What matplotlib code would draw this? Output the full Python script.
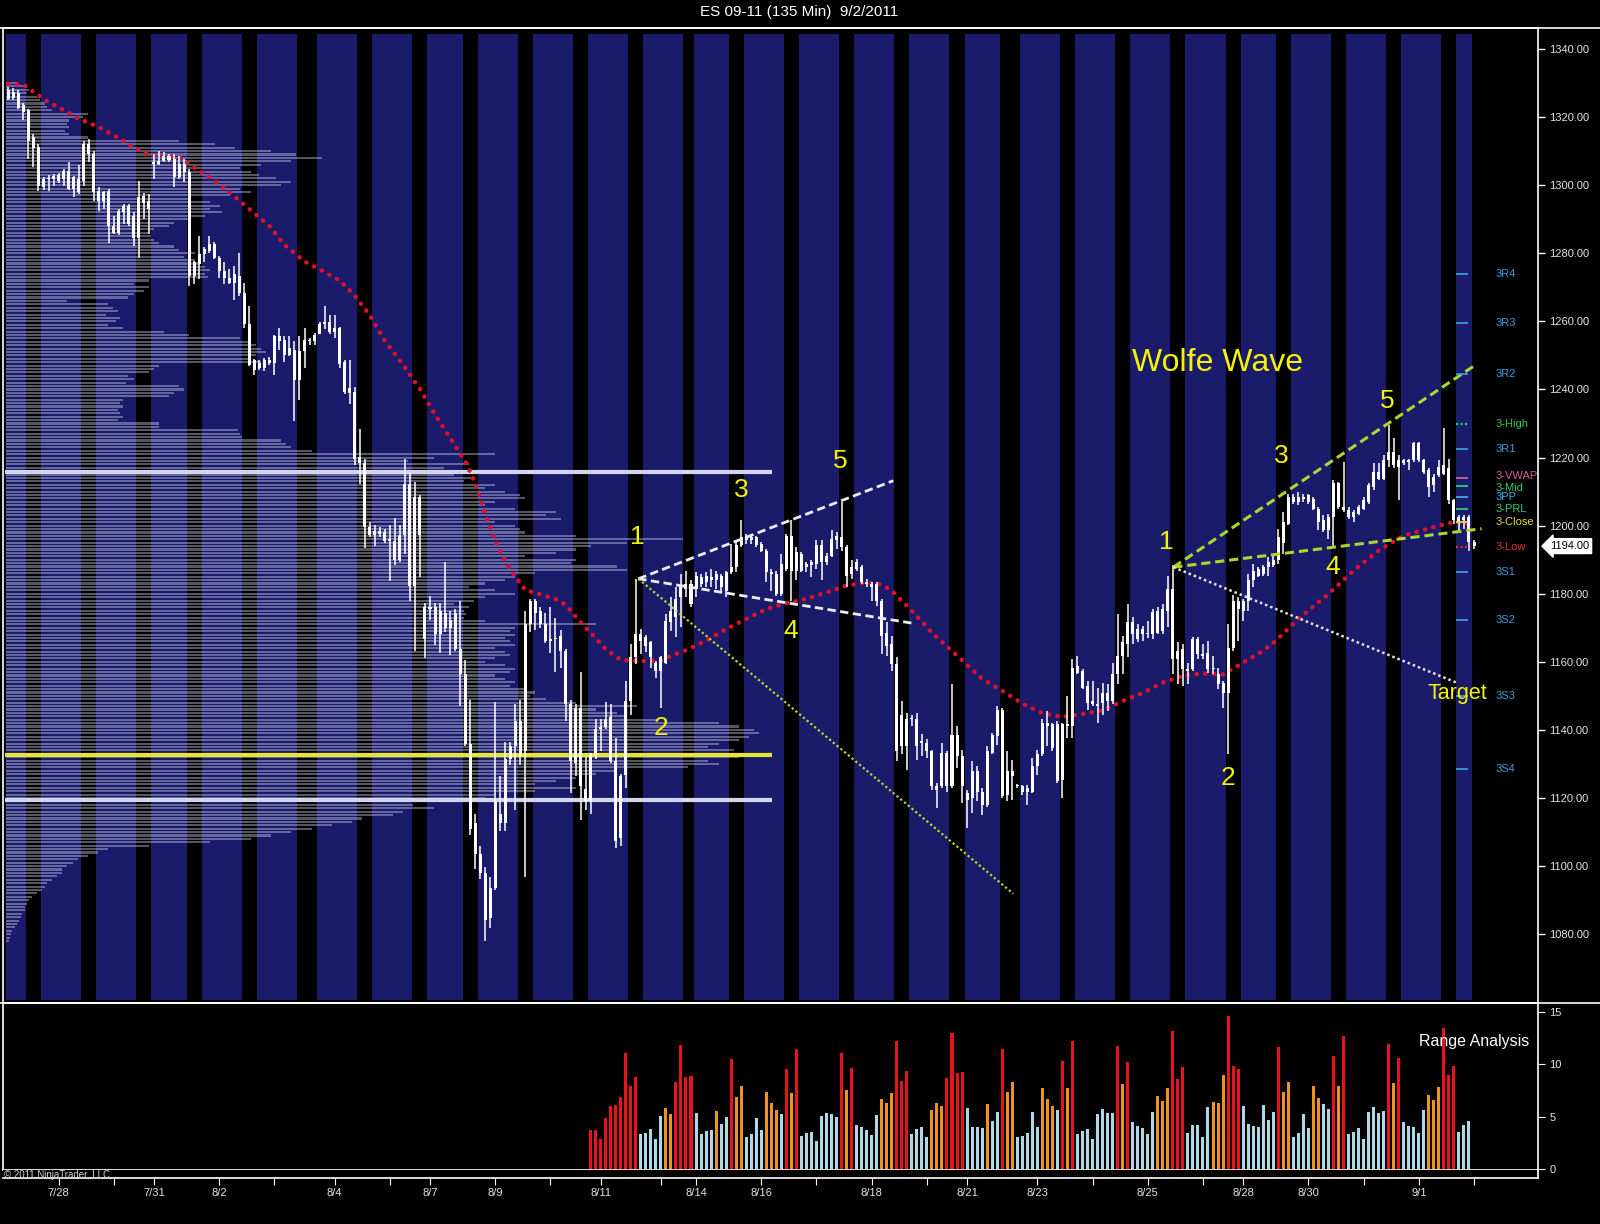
import numpy as np
import matplotlib.pyplot as plt
from matplotlib.lines import Line2D
from matplotlib.transforms import blended_transform_factory

plt.rcParams['font.family'] = ['Liberation Sans', 'DejaVu Sans']

# ES 09-11, 135 minute bars, 7/27 .. 9/2/2011 (bar index 0 = first bar)
opens = [
    1327.9, 1325.6, 1327.2, 1323.6, 1322.0, 1310.9, 1311.2, 1301.8, 1301.8, 1301.8,
    1303.0, 1301.8, 1304.3, 1298.9, 1301.8, 1301.3, 1312.1, 1309.2, 1298.4, 1295.4,
    1298.4, 1288.1, 1286.1, 1292.0, 1294.0, 1291.0, 1284.6, 1296.9, 1295.4, 1306.2,
    1306.2, 1307.2, 1308.5, 1307.7, 1302.3, 1306.2, 1303.8, 1273.3, 1276.8, 1279.7,
    1280.7, 1282.7, 1278.7, 1274.8, 1272.8, 1271.4, 1273.3, 1268.4, 1259.1, 1248.7,
    1246.3, 1246.3, 1248.7, 1247.8, 1255.6, 1254.6, 1250.2, 1251.7, 1242.8, 1251.2,
    1254.6, 1254.2, 1256.4, 1259.3, 1259.9, 1256.8, 1258.1, 1248.1, 1239.1, 1239.4,
    1218.3, 1218.3, 1199.7, 1197.2, 1198.5, 1198.1, 1195.4, 1195.4, 1189.8, 1197.2,
    1212.1, 1182.3, 1208.4, 1166.8, 1175.5, 1176.1, 1168.1, 1174.3, 1169.9, 1174.3,
    1163.7, 1156.3, 1135.8, 1112.8, 1103.5, 1098.0, 1084.9, 1093.6, 1115.3, 1112.8,
    1131.5, 1135.2, 1142.6, 1133.9, 1171.2, 1178.0, 1174.9, 1171.2, 1166.2, 1166.8,
    1167.5, 1163.1, 1147.6, 1130.2, 1146.4, 1122.8, 1119.0, 1132.7, 1140.2, 1140.8,
    1143.9, 1130.8, 1108.2, 1126.9, 1148.5, 1161.3, 1168.1, 1167.2, 1165.7, 1159.8,
    1157.3, 1159.8, 1171.6, 1173.1, 1179.0, 1182.9, 1182.9, 1181.4, 1184.9, 1183.4,
    1184.9, 1183.9, 1185.3, 1180.9, 1186.3, 1187.8, 1194.2, 1196.6, 1195.7, 1196.6,
    1194.7, 1192.7, 1186.3, 1185.8, 1179.9, 1187.3, 1197.1, 1186.8, 1191.7, 1187.8,
    1189.3, 1188.8, 1194.2, 1189.3, 1191.2, 1195.7, 1196.6, 1193.7, 1185.8, 1187.3,
    1187.8, 1183.4, 1182.9, 1182.9, 1178.0, 1168.6, 1165.2, 1159.3, 1135.2, 1143.1,
    1143.1, 1143.1, 1136.2, 1136.2, 1133.7, 1123.4, 1123.4, 1133.2, 1123.4, 1138.6,
    1132.3, 1121.4, 1119.9, 1127.8, 1121.9, 1118.0, 1133.2, 1138.2, 1146.0, 1121.0,
    1127.8, 1123.6, 1123.4, 1121.9, 1121.9, 1129.3, 1132.8, 1142.1, 1141.6, 1141.6,
    1125.4, 1141.6, 1141.1, 1158.8, 1157.3, 1152.9, 1147.5, 1147.5, 1148.0, 1150.9,
    1148.5, 1156.3, 1161.7, 1165.2, 1171.6, 1166.7, 1169.6, 1168.1, 1168.1, 1168.6,
    1169.1, 1175.0, 1181.4, 1160.8, 1163.7, 1157.8, 1157.8, 1166.7, 1162.2, 1162.7,
    1157.8, 1156.3, 1153.9, 1150.9, 1164.2, 1178.0, 1175.0, 1178.0, 1183.9, 1185.3,
    1185.8, 1187.8, 1188.3, 1189.8, 1195.0, 1200.6, 1208.4, 1207.0, 1208.4, 1207.0,
    1207.9, 1205.0, 1201.6, 1198.6, 1202.5, 1212.4, 1205.5, 1204.5, 1202.5, 1203.5,
    1205.0, 1207.0, 1211.4, 1215.8, 1213.8, 1219.3, 1221.7, 1217.3, 1219.3, 1218.8,
    1219.3, 1224.2, 1219.3, 1216.3, 1211.9, 1214.8, 1215.3, 1216.8, 1207.5, 1201.1,
    1202.5, 1202.5, 1195.2]
highs = [
    1328.9, 1328.4, 1328.0, 1324.0, 1322.5, 1315.0, 1312.0, 1302.5, 1303.0, 1303.3,
    1303.5, 1304.8, 1306.7, 1302.8, 1305.8, 1313.1, 1313.6, 1310.0, 1299.4, 1298.4,
    1299.0, 1291.0, 1293.0, 1294.5, 1294.5, 1292.0, 1301.3, 1297.7, 1297.4, 1309.2,
    1309.9, 1309.7, 1309.2, 1309.2, 1308.7, 1307.7, 1304.8, 1277.8, 1285.1, 1281.7,
    1285.1, 1283.2, 1279.2, 1277.3, 1275.3, 1276.3, 1280.2, 1271.4, 1264.5, 1249.0,
    1248.7, 1249.2, 1249.5, 1256.1, 1258.1, 1255.6, 1255.6, 1254.2, 1255.6, 1258.1,
    1255.2, 1256.6, 1259.9, 1264.6, 1261.8, 1261.8, 1258.4, 1248.8, 1248.8, 1240.7,
    1228.3, 1219.6, 1201.0, 1200.3, 1199.7, 1199.0, 1200.3, 1202.2, 1200.3, 1219.6,
    1215.9, 1212.7, 1209.0, 1177.4, 1179.2, 1177.4, 1177.4, 1189.2, 1174.9, 1175.5,
    1178.0, 1160.6, 1148.8, 1115.3, 1106.0, 1099.8, 1096.7, 1148.2, 1126.5, 1136.4,
    1136.4, 1147.6, 1148.8, 1174.9, 1178.6, 1178.6, 1176.0, 1174.3, 1176.1, 1173.0,
    1169.3, 1163.7, 1148.8, 1147.6, 1157.0, 1132.1, 1133.3, 1143.3, 1143.3, 1148.2,
    1147.6, 1137.7, 1127.0, 1154.4, 1165.2, 1184.4, 1169.6, 1168.0, 1166.2, 1160.3,
    1161.8, 1174.0, 1179.0, 1181.9, 1185.8, 1186.8, 1183.9, 1186.3, 1185.8, 1186.3,
    1187.3, 1186.8, 1185.8, 1186.8, 1194.7, 1195.7, 1201.6, 1197.6, 1197.1, 1197.1,
    1195.2, 1193.2, 1187.3, 1186.8, 1191.7, 1197.6, 1201.6, 1193.7, 1192.2, 1189.3,
    1189.8, 1195.7, 1195.7, 1192.0, 1198.8, 1198.1, 1207.0, 1194.2, 1189.8, 1190.3,
    1188.3, 1184.4, 1183.4, 1183.4, 1178.5, 1171.6, 1167.6, 1161.3, 1148.5, 1145.0,
    1144.5, 1145.0, 1138.7, 1137.2, 1134.2, 1124.4, 1136.2, 1133.7, 1153.4, 1141.1,
    1134.2, 1122.4, 1130.8, 1129.3, 1122.9, 1135.2, 1139.1, 1147.0, 1146.5, 1133.7,
    1131.3, 1124.2, 1123.9, 1123.9, 1131.8, 1134.2, 1143.1, 1145.5, 1142.1, 1142.6,
    1142.1, 1150.0, 1160.8, 1161.7, 1157.8, 1154.4, 1154.4, 1152.4, 1153.9, 1153.4,
    1159.8, 1174.0, 1167.6, 1177.0, 1173.1, 1171.1, 1170.6, 1172.1, 1175.5, 1176.0,
    1177.0, 1185.3, 1188.3, 1165.7, 1165.2, 1159.8, 1167.2, 1167.2, 1165.2, 1166.2,
    1161.7, 1158.3, 1154.4, 1171.1, 1179.5, 1179.0, 1178.5, 1185.8, 1188.8, 1187.8,
    1188.3, 1190.8, 1191.7, 1199.1, 1204.0, 1209.4, 1209.4, 1209.9, 1209.4, 1209.4,
    1208.4, 1205.5, 1203.0, 1203.5, 1213.4, 1212.9, 1218.8, 1205.5, 1204.5, 1206.0,
    1208.4, 1212.4, 1218.3, 1218.3, 1220.7, 1229.6, 1225.6, 1220.7, 1219.7, 1219.7,
    1224.7, 1224.7, 1219.7, 1216.8, 1215.3, 1219.3, 1228.6, 1219.7, 1207.9, 1203.0,
    1203.0, 1203.0, 1195.7]
lows = [
    1324.9, 1324.9, 1322.5, 1319.0, 1307.7, 1305.3, 1298.4, 1298.5, 1298.4, 1299.9,
    1300.5, 1299.9, 1298.7, 1296.4, 1297.4, 1299.9, 1306.7, 1295.4, 1292.5, 1293.0,
    1283.1, 1285.6, 1285.5, 1288.5, 1288.0, 1282.2, 1278.7, 1290.0, 1285.6, 1301.8,
    1305.8, 1306.9, 1306.7, 1299.4, 1301.8, 1300.8, 1270.4, 1270.9, 1272.3, 1277.3,
    1280.2, 1278.2, 1272.8, 1270.9, 1270.9, 1266.4, 1267.4, 1258.1, 1246.8, 1244.3,
    1245.8, 1245.5, 1247.3, 1244.3, 1251.7, 1248.2, 1249.7, 1230.6, 1237.0, 1246.3,
    1253.2, 1253.2, 1256.2, 1257.7, 1256.2, 1255.0, 1246.3, 1238.8, 1235.7, 1217.7,
    1212.1, 1193.5, 1196.6, 1194.1, 1196.6, 1195.0, 1183.6, 1188.5, 1189.2, 1191.7,
    1178.0, 1163.1, 1184.8, 1161.2, 1172.4, 1165.0, 1162.5, 1168.7, 1162.0, 1163.1,
    1147.0, 1135.2, 1109.1, 1099.2, 1096.1, 1078.1, 1081.8, 1093.0, 1110.4, 1110.4,
    1129.6, 1116.6, 1129.6, 1096.7, 1168.7, 1169.3, 1170.0, 1165.6, 1162.5, 1156.9,
    1158.2, 1142.6, 1121.5, 1126.5, 1113.5, 1116.6, 1115.3, 1131.5, 1133.9, 1140.2,
    1130.2, 1105.4, 1106.0, 1122.9, 1144.5, 1159.3, 1162.2, 1163.0, 1158.3, 1155.4,
    1146.5, 1159.3, 1169.1, 1167.2, 1170.1, 1179.0, 1176.0, 1179.0, 1181.9, 1181.9,
    1181.9, 1181.4, 1180.4, 1179.0, 1185.8, 1186.3, 1193.7, 1194.7, 1194.7, 1193.7,
    1192.2, 1183.4, 1180.9, 1179.4, 1179.4, 1186.8, 1178.0, 1183.9, 1186.3, 1186.3,
    1184.9, 1187.3, 1183.9, 1188.5, 1190.7, 1193.2, 1192.7, 1181.9, 1184.4, 1186.8,
    1182.9, 1182.0, 1178.0, 1176.5, 1162.2, 1161.8, 1157.3, 1130.8, 1132.8, 1128.3,
    1141.1, 1131.3, 1132.3, 1131.8, 1122.4, 1117.0, 1122.9, 1121.9, 1122.9, 1128.8,
    1118.5, 1111.1, 1115.5, 1119.0, 1115.1, 1117.5, 1132.8, 1135.7, 1120.0, 1119.0,
    1119.5, 1122.9, 1120.9, 1118.0, 1121.4, 1126.9, 1132.3, 1135.2, 1133.7, 1124.4,
    1119.9, 1137.7, 1137.7, 1156.3, 1151.9, 1146.0, 1147.0, 1142.1, 1144.5, 1145.5,
    1147.5, 1153.4, 1156.3, 1161.3, 1165.2, 1165.7, 1166.2, 1167.1, 1166.7, 1168.1,
    1168.1, 1170.1, 1156.3, 1153.4, 1152.9, 1153.4, 1157.3, 1160.8, 1160.8, 1156.8,
    1156.3, 1151.9, 1146.5, 1132.8, 1163.2, 1166.2, 1172.1, 1175.0, 1181.9, 1184.9,
    1185.3, 1185.3, 1187.8, 1188.8, 1191.7, 1200.1, 1206.5, 1206.0, 1207.0, 1206.5,
    1204.5, 1198.6, 1198.1, 1196.2, 1193.7, 1205.0, 1204.0, 1202.0, 1201.1, 1203.0,
    1204.5, 1206.5, 1210.4, 1213.4, 1213.4, 1217.3, 1216.8, 1207.5, 1217.8, 1216.3,
    1218.8, 1218.8, 1215.3, 1208.4, 1209.9, 1214.3, 1214.8, 1206.5, 1200.6, 1198.6,
    1199.1, 1192.7, 1193.2]
closes = [
    1325.4, 1327.4, 1322.7, 1321.5, 1313.1, 1314.1, 1299.9, 1299.4, 1302.2, 1302.8,
    1301.3, 1304.3, 1298.9, 1302.3, 1297.9, 1312.1, 1309.2, 1297.9, 1295.4, 1297.9,
    1288.1, 1286.1, 1292.5, 1294.0, 1288.5, 1284.6, 1296.4, 1294.9, 1293.0, 1306.7,
    1307.2, 1308.5, 1307.5, 1302.3, 1306.2, 1303.8, 1273.3, 1277.3, 1279.7, 1281.2,
    1282.7, 1278.7, 1274.8, 1272.8, 1271.4, 1273.8, 1268.4, 1259.1, 1247.3, 1245.8,
    1247.8, 1248.7, 1247.8, 1255.6, 1254.2, 1250.2, 1252.2, 1242.8, 1251.2, 1254.6,
    1254.2, 1256.1, 1259.3, 1259.9, 1256.8, 1258.1, 1247.5, 1239.4, 1240.3, 1219.6,
    1220.2, 1199.7, 1197.2, 1198.5, 1197.5, 1195.4, 1196.0, 1189.8, 1197.2, 1212.1,
    1182.3, 1208.4, 1197.2, 1176.1, 1176.1, 1168.1, 1174.9, 1169.9, 1172.4, 1163.7,
    1156.3, 1135.8, 1111.0, 1103.5, 1098.0, 1084.3, 1093.6, 1119.0, 1112.8, 1131.5,
    1135.2, 1142.6, 1132.7, 1171.2, 1178.0, 1174.3, 1171.2, 1166.2, 1166.8, 1167.1,
    1163.1, 1147.6, 1130.8, 1146.4, 1123.4, 1119.0, 1132.7, 1140.2, 1140.8, 1143.3,
    1130.8, 1107.3, 1126.4, 1148.5, 1161.3, 1168.1, 1166.2, 1164.7, 1161.3, 1157.3,
    1161.3, 1172.1, 1175.0, 1178.5, 1182.9, 1181.4, 1177.0, 1185.3, 1182.9, 1185.3,
    1183.9, 1185.8, 1181.9, 1186.3, 1187.8, 1194.2, 1196.6, 1195.7, 1196.6, 1194.2,
    1192.7, 1186.3, 1185.8, 1179.9, 1188.8, 1197.1, 1186.8, 1192.2, 1186.8, 1188.8,
    1188.3, 1194.2, 1189.3, 1191.2, 1196.2, 1197.1, 1193.7, 1185.3, 1187.8, 1189.3,
    1183.4, 1182.9, 1181.9, 1178.0, 1167.6, 1164.7, 1159.3, 1133.7, 1144.5, 1135.2,
    1143.6, 1135.2, 1136.7, 1133.7, 1123.4, 1122.4, 1133.2, 1123.4, 1138.6, 1132.3,
    1123.4, 1119.5, 1127.8, 1121.9, 1118.0, 1133.7, 1138.6, 1146.0, 1120.5, 1127.8,
    1126.4, 1123.4, 1121.9, 1122.9, 1129.3, 1132.8, 1142.1, 1141.1, 1134.7, 1124.9,
    1141.6, 1141.1, 1158.3, 1156.8, 1152.4, 1148.0, 1148.5, 1147.0, 1150.9, 1148.5,
    1156.3, 1161.7, 1165.7, 1171.6, 1168.1, 1169.6, 1168.1, 1168.6, 1174.6, 1175.0,
    1175.5, 1181.4, 1160.8, 1163.2, 1157.8, 1157.3, 1166.7, 1162.2, 1161.7, 1157.8,
    1158.3, 1153.4, 1150.9, 1164.2, 1178.0, 1175.5, 1178.0, 1183.9, 1186.8, 1187.3,
    1187.8, 1189.3, 1189.8, 1196.6, 1201.1, 1208.4, 1207.0, 1208.4, 1207.9, 1208.9,
    1205.0, 1201.1, 1198.6, 1202.5, 1212.4, 1205.5, 1204.5, 1202.5, 1204.0, 1205.5,
    1207.5, 1211.9, 1215.8, 1213.8, 1219.3, 1221.7, 1217.8, 1219.3, 1218.3, 1219.3,
    1224.2, 1219.3, 1215.8, 1211.4, 1214.3, 1217.3, 1217.8, 1207.5, 1201.6, 1202.5,
    1201.6, 1195.2, 1194.0]

# moving average (red dotted), read at sample bars
ma_bars = [0, 3, 5, 8, 12, 14, 18, 22, 25, 28, 31, 34, 37, 40, 44, 48, 52, 55, 59, 63,
           66, 69, 72, 75, 79, 82, 85, 89, 91, 93, 95, 97, 99, 101, 103, 106, 109, 111,
           114, 117, 119, 122, 126, 130, 132, 135, 139, 143, 147, 151, 155, 159, 163,
           167, 170, 172, 174, 176, 179, 182, 184, 187, 190, 194, 198, 202, 206, 210,
           214, 218, 222, 226, 230, 234, 238, 242, 246, 249, 252, 257, 263, 268, 273,
           278, 284, 288, 291]
ma_vals = [1329.8, 1329.5, 1327.4, 1324.4, 1321.3, 1319.5, 1317.1, 1313.8, 1311.1, 1308.9,
           1308.5, 1308.2, 1305.2, 1302.4, 1298.0, 1293.0, 1288.0, 1282.5, 1277.6, 1274.5,
           1272.0, 1267.6, 1261.8, 1254.3, 1246.5, 1240.1, 1232.6, 1223.5, 1219.0, 1212.5,
           1203.5, 1195.5, 1189.5, 1185.0, 1181.1, 1179.8, 1178.4, 1176.8, 1171.6, 1167.0,
           1163.7, 1160.6, 1160.2, 1160.3, 1161.8, 1163.4, 1166.2, 1169.6, 1172.6, 1175.5,
           1177.2, 1178.5, 1180.4, 1182.4, 1183.1, 1183.1, 1182.7, 1180.9, 1176.5, 1171.8,
           1168.5, 1164.5, 1160.5, 1155.0, 1151.5, 1147.8, 1144.9, 1143.8, 1144.7, 1145.7,
           1148.5, 1150.9, 1153.9, 1155.9, 1156.6, 1156.3, 1159.8, 1162.3, 1165.5, 1172.6,
           1179.9, 1186.8, 1192.7, 1197.1, 1199.6, 1201.1, 1200.6]

# volume profile, one row per point from 1330 down to 1078
profile_prices = list(range(1330, 1077, -1))
profile_vol = [
    10, 18, 22, 20, 30, 33, 38, 40, 45, 80,
    75, 62, 60, 62, 58, 62, 80, 170, 205, 225,
    260, 285, 310, 280, 250, 230, 240, 248, 265, 280,
    270, 230, 240, 220, 180, 200, 210, 200, 212, 195,
    180, 165, 160, 145, 140, 142, 145, 150, 165, 170,
    185, 175, 185, 190, 195, 200, 195, 198, 140, 125,
    140, 135, 125, 120, 60, 100, 105, 110, 98, 112,
    108, 100, 115, 155, 180, 230, 240, 245, 250, 255,
    245, 240, 250, 150, 145, 140, 120, 125, 118, 170,
    175, 165, 160, 115, 112, 115, 110, 112, 115, 110,
    150, 150, 228, 230, 232, 270, 275, 280, 300, 480,
    420, 395, 455, 430, 420, 440, 460, 450, 480, 470,
    490, 505, 510, 480, 470, 500, 540, 530, 545, 480,
    500, 505, 510, 560, 665, 610, 575, 560, 540, 510,
    560, 555, 600, 610, 520, 500, 490, 470, 455, 480,
    500, 470, 460, 440, 455, 450, 452, 450, 470, 580,
    500, 495, 500, 490, 495, 500, 480, 490, 495, 480,
    470, 490, 500, 495, 480, 490, 500, 495, 510, 520,
    515, 530, 560, 620, 580, 600, 610, 640, 700, 720,
    735, 740, 730, 720, 700, 690, 715, 745, 720, 690,
    700, 670, 600, 580, 560, 540, 520, 560, 520, 480,
    470, 420, 400, 420, 390, 380, 350, 340, 320, 300,
    280, 260, 240, 200, 140, 100, 90, 80, 70, 65,
    60, 55, 55, 50, 45, 40, 38, 35, 30, 25,
    22, 20, 18, 18, 15, 14, 12, 10, 8, 6,
    5, 4, 3]
profile_hi, profile_poc, profile_lo = 1215.7, 1132.7, 1119.5

# trading sessions shaded navy (first bar, last bar)
sessions = [(0, 3), (7, 14), (18, 25), (29, 35), (39, 46), (50, 57), (62, 69), (73, 80),
            (84, 90), (94, 101), (105, 112), (116, 123), (127, 134), (137, 143),
            (147, 154), (158, 165), (169, 176), (180, 187), (191, 197), (202, 209),
            (213, 220), (224, 231), (235, 242), (246, 252), (256, 263), (267, 274),
            (278, 285), (289, 291)]

# range analysis panel, bars 116..291
range_start = 116
range_vals = [
    3.67, 3.67, 2.87, 4.9, 5.97, 6.06, 6.86, 11.07, 7.88, 8.78,
    3.29, 3.38, 3.77, 2.9, 5.04, 5.78, 5.2, 8.27, 11.8, 8.78,
    8.84, 5.3, 3.29, 3.57, 3.67, 5.49, 4.24, 4.95, 10.47, 6.83,
    7.88, 3.0, 3.29, 4.9, 3.67, 7.3, 6.26, 5.59, 5.2, 9.51,
    7.21, 11.43, 3.13, 3.38, 3.48, 2.71, 5.04, 5.3, 5.2, 4.95,
    11.07, 7.5, 9.6, 4.15, 3.96, 3.67, 3.22, 5.1, 6.64, 6.26,
    7.21, 12.22, 8.36, 9.32, 3.32, 3.77, 4.0, 3.0, 5.59, 6.26,
    5.97, 8.65, 12.99, 9.13, 9.22, 5.78, 3.99, 3.99, 3.86, 6.16,
    4.53, 5.39, 11.46, 7.3, 8.27, 3.0, 3.13, 3.38, 5.39, 3.99,
    7.69, 6.64, 5.97, 5.59, 10.28, 7.69, 12.22, 3.29, 3.57, 3.77,
    2.81, 5.2, 5.68, 5.3, 5.3, 11.71, 8.07, 10.18, 4.44, 4.05,
    3.86, 3.29, 5.39, 6.93, 6.45, 7.69, 13.15, 8.55, 9.7, 3.38,
    4.15, 4.15, 3.0, 5.87, 6.35, 6.26, 8.94, 14.59, 9.8, 9.51,
    5.97, 4.24, 4.05, 3.96, 6.06, 4.63, 5.39, 11.62, 7.3, 8.27,
    3.0, 3.38, 5.2, 3.86, 7.88, 6.73, 6.16, 5.68, 10.76, 7.88,
    12.67, 3.29, 3.48, 3.86, 2.81, 5.39, 5.87, 5.3, 5.49, 11.9,
    8.17, 10.56, 4.44, 4.05, 3.96, 3.38, 5.59, 7.02, 6.54, 7.79,
    13.44, 8.94, 9.8, 3.48, 4.15, 4.53]
# r = high (red), o = medium (orange), b = low (light blue)
range_cls = ("rrrrrrrrrr" "bbbbb" "oo" "rrrr" "bbbb" "o" "bb" "r" "oo" "bbbb" "ooo" "b"
             "ror"
             "bbbbbbbb" "ror" "bbbbb" "ooo" "rrr" "bbbb" "ooo" "rrrr" "bbbb" "o" "bb" "r"
             "oo" "bbbbb" "ooo" "b" "ror" "bbbbbbbb" "ror" "bbbbb" "ooo" "rrr" "bbbbb"
             "ooo" "rrr" "bbbbbbb" "r" "oo" "bbbb" "oo" "bb" "ror" "bbbbbbbb" "ror"
             "bbbbb" "ooo" "rrr" "bbb")
range_colors = {'r': '#e8141c', 'o': '#f0921e', 'b': '#add8e6'}

# pivot levels drawn at the right edge
pivot_names = ['3R4', '3R3', '3R2', '3-High', '3R1', '3-VWAP', '3-Mid', '3PP', '3-PRL',
               '3-Close', '3-Low', '3S1', '3S2', '3S3', '3S4']
pivot_levels = [1274.0, 1259.4, 1244.5, 1229.9, 1222.6, 1213.9, 1211.6, 1208.3, 1204.9,
                1201.1, 1193.7, 1186.3, 1172.2, 1150.1, 1128.5]
pivot_colors = ['#3a9ad9', '#3a9ad9', '#3a9ad9', '#2ecc40', '#3a9ad9', '#d0609a', '#2ecc71',
                '#3aaee0', '#2ecc71', '#e8d83a', '#e0301e', '#3a9ad9', '#3a9ad9', '#3a9ad9',
                '#3a9ad9']
# small vertical nudges so the crowded labels do not sit on top of each other
pivot_nudge = {'3-VWAP': 0.7, '3-Mid': -0.6}

# date axis
date_ticks = [10, 21, 29, 42, 53, 65, 76, 84, 97, 108, 118, 130, 137, 150, 161, 172, 183,
              191, 205, 216, 227, 238, 246, 259, 270, 281, 292]
date_labels = ['7/28', '', '7/31', '8/2', '', '8/4', '', '8/7', '8/9', '', '8/11', '', '8/14',
               '8/16', '', '8/18', '', '8/21', '8/23', '', '8/25', '', '8/28', '8/30', '',
               '9/1', '']
last_price = 1194.00

# ---------------------------------------------------------------- layout
fig = plt.figure(figsize=(16, 12.24), dpi=100, facecolor='black')
W, H = 1568.0, 1200.0


def box(x0, y0, x1, y1):
    return [x0 / W, 1 - y1 / H, (x1 - x0) / W, (y1 - y0) / H]


ax = fig.add_axes(box(3, 27, 1507, 983))
ax_r = fig.add_axes(box(3, 983, 1507, 1147))
ax_t = fig.add_axes(box(3, 1147, 1507, 1155))
xlim = (-1.06, 304.7)
for a in (ax, ax_r, ax_t):
    a.set_facecolor('black')
    a.set_xlim(*xlim)
    for s in a.spines.values():
        s.set_color('white')
        s.set_linewidth(1.2)

navy = '#1b1b6b'
for s, e in sessions:
    ax.axvspan(s - 0.5, e + 0.5, ymin=0.003, ymax=0.993, color=navy, lw=0, zorder=0)

# volume profile
vol = np.array(profile_vol, dtype=float)
ax.barh(profile_prices, vol / vol.max() * 151, height=0.62, left=-0.4,
        color='#d8d8f4', alpha=0.4, lw=0, zorder=1)
ax.hlines([profile_hi, profile_lo], -0.6, 152.2, colors='#d4d4ee', lw=3, zorder=2)
ax.hlines(profile_poc, -0.6, 152.2, colors='#e6e630', lw=3, zorder=2)

# moving average
ax.plot(ma_bars, ma_vals, color='#e0102a', lw=3.2, ls=(0, (0.05, 1.9)),
        dash_capstyle='round', zorder=3)

# candles
x = np.arange(len(closes))
o = np.array(opens)
c = np.array(closes)
body_lo = np.minimum(o, c)
body_h = np.maximum(np.abs(c - o), 0.35)
ax.vlines(x, lows, highs, color='white', lw=1.1, zorder=4)
ax.bar(x, body_h, bottom=body_lo, width=0.6, color='white', lw=0, zorder=5)

# wolfe wave 1
ax.plot([125.5, 176.3], [1184.4, 1213.2], color='#ececec', lw=2, ls=(0, (3, 1.6)), zorder=6)
ax.plot([125.5, 180.3], [1184.4, 1171.3], color='#ececec', lw=2, ls=(0, (3, 1.6)), zorder=6)
ax.plot([125.5, 200.2], [1184.4, 1091.9], color='#b4dc28', lw=1.6, ls=(0, (1, 1.2)), zorder=6)
# wolfe wave 2
ax.plot([232.1, 292.5], [1187.8, 1247.4], color='#a8d830', lw=2.2, ls=(0, (3, 1.6)), zorder=6)
ax.plot([232.1, 293.5], [1187.8, 1199.1], color='#a8d830', lw=2.2, ls=(0, (3, 1.6)), zorder=6)
ax.plot([232.1, 288.5], [1187.8, 1153.9], color='#e4e4e4', lw=1.8, ls=(0, (1, 1.2)), zorder=6)

yel = '#f4f400'
wave_labels = [('1', 125.4, 1196.6), ('2', 130.1, 1140.5), ('3', 146.1, 1210.6),
               ('4', 155.9, 1169.2), ('5', 165.8, 1219.0), ('1', 230.7, 1195.3),
               ('2', 242.9, 1125.8), ('3', 253.7, 1220.5), ('4', 263.8, 1187.8),
               ('5', 274.8, 1236.6)]
for t, lx, ly in wave_labels:
    ax.text(lx, ly, t, color=yel, fontsize=19, ha='center', va='center', zorder=7)
ax.text(240.9, 1247.7, 'Wolfe Wave', color=yel, fontsize=23, ha='center', va='center', zorder=7)
ax.text(288.6, 1150.7, 'Target', color=yel, fontsize=15.5, ha='center', va='center', zorder=7)

# pivots
for name, lvl, col in zip(pivot_names, pivot_levels, pivot_colors):
    if name in ('3-High', '3-Low'):
        ax.hlines(lvl, 288.5, 290.9, colors=col, lw=1.6, linestyles=(0, (1, 1)), zorder=6)
    else:
        ax.hlines(lvl, 288.5, 290.9, colors=col, lw=1.3, zorder=6)
    ax.text(296.2, lvl + pivot_nudge.get(name, 0.0), name, color=col, fontsize=8,
            ha='left', va='center', zorder=7)

ax.set_ylim(1059.9, 1346.3)
ax.yaxis.tick_right()
ax.set_yticks(np.arange(1080, 1341, 20))
ax.yaxis.set_major_formatter(plt.FormatStrFormatter('%.2f'))
ax.tick_params(axis='y', colors='white', labelcolor='#e4e4e4', labelsize=8, length=5, width=1)
ax.tick_params(axis='x', bottom=False, labelbottom=False)

tr = blended_transform_factory(ax.transAxes, ax.transData)
ax.text(1.008, last_price, '%.2f' % last_price, transform=tr, fontsize=8, color='black',
        ha='left', va='center', bbox=dict(boxstyle='larrow,pad=0.22', fc='white', ec='white'))

# range analysis
rx = np.arange(range_start, range_start + len(range_vals))
ax_r.bar(rx, range_vals, width=0.6, color=[range_colors[k] for k in range_cls], lw=0)
ax_r.set_ylim(-0.1, 15.87)
ax_r.yaxis.tick_right()
ax_r.set_yticks([0, 5, 10, 15])
ax_r.tick_params(axis='y', colors='white', labelcolor='#e4e4e4', labelsize=8, length=5)
ax_r.tick_params(axis='x', bottom=False, labelbottom=False)
ax_r.text(292.1, 12.2, 'Range Analysis', color='white', fontsize=11.5, ha='center', va='center')

# date axis
ax_t.set_yticks([])
ax_t.set_xticks(date_ticks)
ax_t.set_xticklabels(date_labels)
ax_t.tick_params(axis='x', colors='white', labelcolor='#e4e4e4', labelsize=8, length=5, pad=2)
for side in ('left', 'top'):
    ax_t.spines[side].set_visible(False)
ax_t.text(0.0005, 0.4, '\u00a9 2011 NinjaTrader, LLC', transform=ax_t.transAxes, fontsize=7,
          color='#d0d0d0', ha='left', va='center')

# full-width separators and title
for yy in (27, 983):
    fig.add_artist(Line2D([0, 1], [1 - yy / H, 1 - yy / H], transform=fig.transFigure,
                          color='white', lw=1.2))
fig.text(783 / W, 1 - 12 / H, 'ES 09-11 (135 Min)  9/2/2011', color='white', fontsize=11,
         ha='center', va='center')

fig.savefig('out.png', dpi=100, facecolor='black')
